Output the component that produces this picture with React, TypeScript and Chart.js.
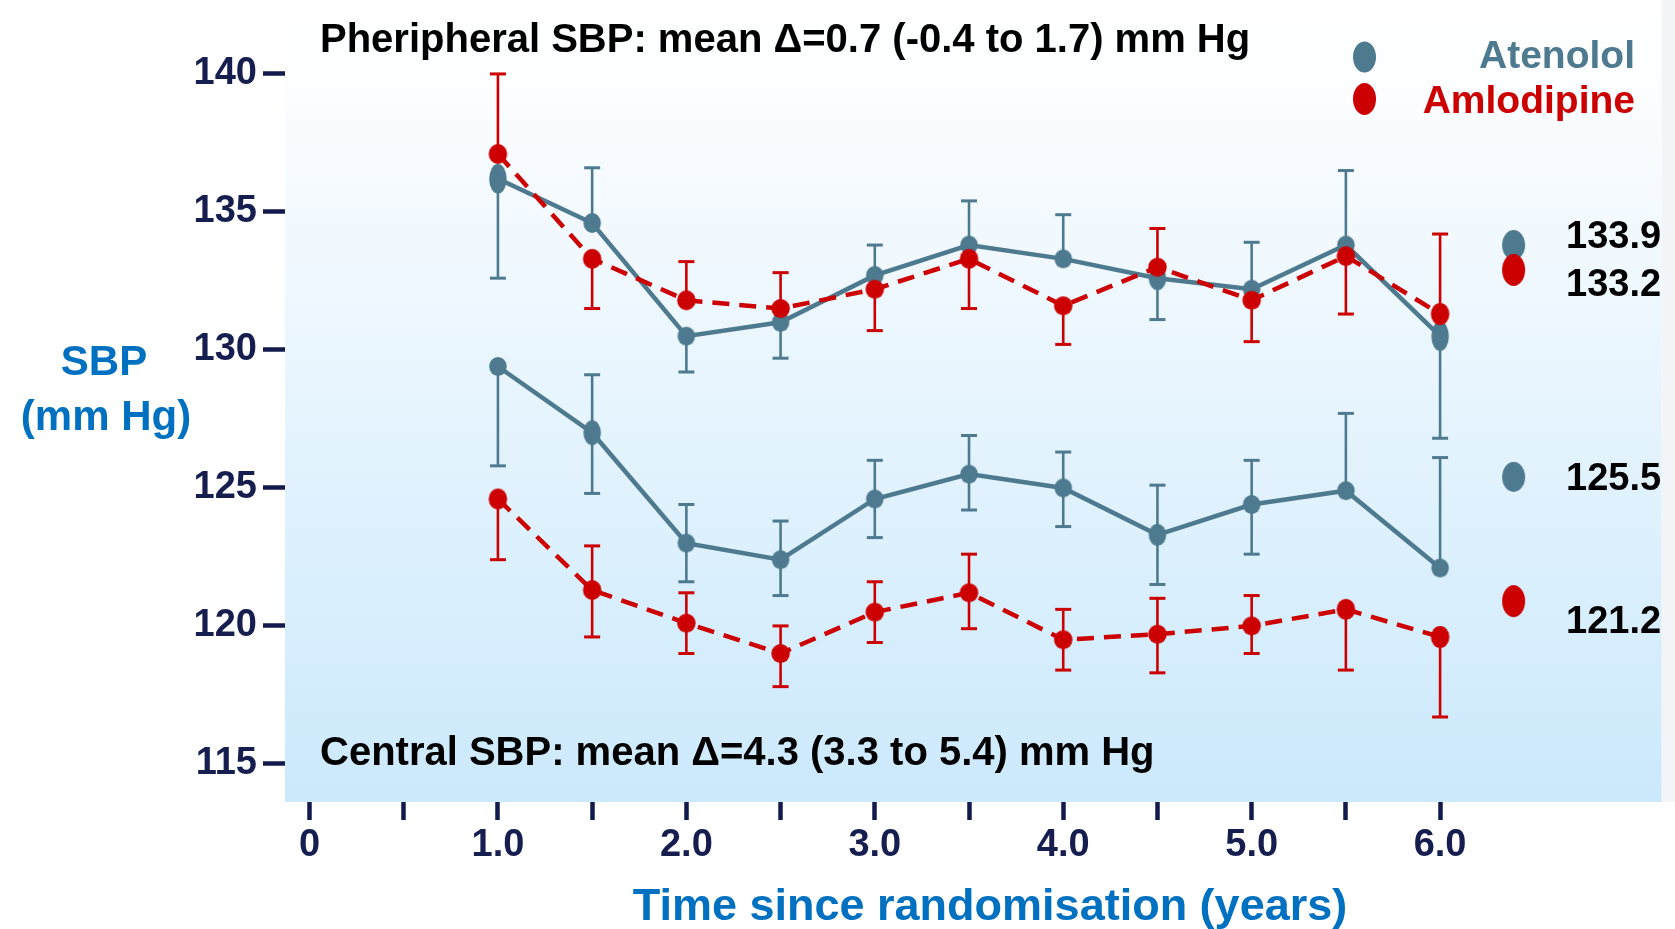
import React, { useEffect, useRef } from 'react';
import { Chart, registerables } from 'chart.js';

Chart.register(...registerables);

// ---------------- data ----------------
const years = [1.0, 1.5, 2.0, 2.5, 3.0, 3.5, 4.0, 4.5, 5.0, 5.5, 6.0];

const periphAtenolol = [136.2, 134.6, 130.5, 131.0, 132.7, 133.8, 133.3, 132.6, 132.2, 133.8, 130.5];
const periphAtenololLow = [132.6, null, 129.2, 129.7, null, null, null, 131.1, null, null, 126.8];
const periphAtenololHigh = [null, 136.6, null, null, 133.8, 135.4, 134.9, null, 133.9, 136.5, null];

const periphAmlodipine = [137.1, 133.3, 131.8, 131.5, 132.2, 133.3, 131.6, 133.0, 131.8, 133.4, 131.3];
const periphAmlodipineLow = [null, 131.5, null, null, 130.7, 131.5, 130.2, null, 130.3, 131.3, null];
const periphAmlodipineHigh = [140.0, null, 133.2, 132.8, null, null, null, 134.4, null, null, 134.2];

const centralAtenolol = [129.4, 127.0, 123.0, 122.4, 124.6, 125.5, 125.0, 123.3, 124.4, 124.9, 122.1];
const centralAtenololLow = [125.8, 124.8, 121.6, 121.1, 123.2, 124.2, 123.6, 121.5, 122.6, null, null];
const centralAtenololHigh = [null, 129.1, 124.4, 123.8, 126.0, 126.9, 126.3, 125.1, 126.0, 127.7, 126.1];

const centralAmlodipine = [124.6, 121.3, 120.1, 119.0, 120.5, 121.2, 119.5, 119.7, 120.0, 120.6, 119.6];
const centralAmlodipineLow = [122.4, 119.6, 119.0, 117.8, 119.4, 119.9, 118.4, 118.3, 119.0, 118.4, 116.7];
const centralAmlodipineHigh = [null, 122.9, 121.2, 120.0, 121.6, 122.6, 120.6, 121.0, 121.1, null, null];

// overall means shown at the right
const summaryX = 6.39;
const summaryAtenolol = [133.8, 125.4];
const summaryAtenololLabels = ['133.9', '125.5'];
const summaryAmlodipine = [132.9, 120.9];
const summaryAmlodipineLabels = ['133.2', '121.2'];

const xTicks = [0, 0.5, 1.0, 1.5, 2.0, 2.5, 3.0, 3.5, 4.0, 4.5, 5.0, 5.5, 6.0];
const yTicks = [115, 120, 125, 130, 135, 140];

const seriesNames = ['Atenolol', 'Amlodipine'];
const titlePeripheral = 'Pheripheral SBP: mean \u0394=0.7 (-0.4 to 1.7) mm Hg';
const titleCentral = 'Central SBP: mean \u0394=4.3 (3.3 to 5.4) mm Hg';
const yTitleLines = ['SBP', '(mm Hg)'];
const xTitle = 'Time since randomisation (years)';

// ---------------- style ----------------
const FONT = '"Liberation Sans", Arial, Helvetica, sans-serif';
const ATEN = '#4e7a8f';
const AMLO = '#cc0000';
const BLUE = '#0070c0';
const NAVY = '#121a4c';
const NAVY_TXT = '#161d4f';

// marker heights (visual style) per point
const hPA = [30, 20, 19, 19, 19, 19, 19, 24, 19, 19, 30];
const hPM = [20, 20, 20, 19, 19, 20, 19, 19, 19, 20, 22];
const hCA = [19, 25, 19, 19, 19, 19, 19, 22, 19, 19, 19];
const hCM = [21, 20, 19, 19, 19, 19, 19, 19, 19, 21, 22];
const summaryLabelDy = { aten: [3, 13], amlo: [26, 32] };

function ellipseImage(w: number, h: number, color: string) {
  const c = document.createElement('canvas');
  c.width = Math.ceil(w) + 2;
  c.height = Math.ceil(h) + 2;
  const g = c.getContext('2d')!;
  g.fillStyle = color;
  g.beginPath();
  g.ellipse(c.width / 2, c.height / 2, w / 2, h / 2, 0, 0, Math.PI * 2);
  g.fill();
  return c;
}

function pts(vals: number[]) {
  return years.map((x, i) => ({ x, y: vals[i] }));
}

const errorBars = [
  { vals: periphAtenolol, lo: periphAtenololLow, hi: periphAtenololHigh, color: ATEN },
  { vals: centralAtenolol, lo: centralAtenololLow, hi: centralAtenololHigh, color: ATEN },
  { vals: periphAmlodipine, lo: periphAmlodipineLow, hi: periphAmlodipineHigh, color: AMLO },
  { vals: centralAmlodipine, lo: centralAmlodipineLow, hi: centralAmlodipineHigh, color: AMLO },
];

const backgroundPlugin = {
  id: 'bg',
  beforeDraw(chart: any) {
    const { ctx, chartArea, width, height } = chart;
    const top = 5;
    ctx.save();
    ctx.fillStyle = '#ffffff';
    ctx.fillRect(0, 0, width, height);
    ctx.fillStyle = '#f3f4f8';
    ctx.fillRect(chartArea.right, 0, width - chartArea.right, chartArea.bottom);
    const g = ctx.createLinearGradient(0, top, 0, chartArea.bottom);
    g.addColorStop(0, '#ffffff');
    g.addColorStop(0.12, '#fbfdff');
    g.addColorStop(1, '#cbe9fc');
    ctx.fillStyle = g;
    ctx.fillRect(chartArea.left, top, chartArea.right - chartArea.left, chartArea.bottom - top);
    ctx.restore();
  },
};

const errorBarPlugin = {
  id: 'errbars',
  beforeDatasetsDraw(chart: any) {
    const { ctx } = chart;
    const xs = chart.scales.x;
    const ys = chart.scales.y;
    ctx.save();
    errorBars.forEach((s) => {
      ctx.strokeStyle = s.color;
      years.forEach((yr, i) => {
        const px = xs.getPixelForValue(yr);
        const py = ys.getPixelForValue(s.vals[i]);
        [s.lo[i], s.hi[i]].forEach((end) => {
          if (end === null || end === undefined) return;
          const pe = ys.getPixelForValue(end);
          ctx.lineWidth = 2.6;
          ctx.beginPath();
          ctx.moveTo(px, py);
          ctx.lineTo(px, pe);
          ctx.stroke();
          ctx.lineWidth = 3;
          ctx.beginPath();
          ctx.moveTo(px - 8, pe);
          ctx.lineTo(px + 8, pe);
          ctx.stroke();
        });
      });
    });
    ctx.restore();
  },
};

const textPlugin = {
  id: 'texts',
  afterDraw(chart: any) {
    const { ctx } = chart;
    ctx.save();
    ctx.textBaseline = 'alphabetic';
    // panel titles
    ctx.fillStyle = '#000000';
    ctx.textAlign = 'left';
    ctx.font = `bold 40px ${FONT}`;
    ctx.fillText(titlePeripheral, 320, 52);
    ctx.fillText(titleCentral, 320, 765);
    // axis titles
    ctx.fillStyle = BLUE;
    ctx.textAlign = 'center';
    ctx.font = `bold 42px ${FONT}`;
    ctx.fillText(yTitleLines[0], 104, 375);
    ctx.fillText(yTitleLines[1], 106, 430);
    ctx.font = `bold 45px ${FONT}`;
    ctx.fillText(xTitle, 990, 920);
    // legend
    ctx.textAlign = 'right';
    ctx.font = `bold 39px ${FONT}`;
    ctx.fillStyle = ATEN;
    ctx.beginPath();
    ctx.ellipse(1364.5, 57, 11.5, 15.5, 0, 0, Math.PI * 2);
    ctx.fill();
    ctx.fillText(seriesNames[0], 1635, 68);
    ctx.fillStyle = AMLO;
    ctx.beginPath();
    ctx.ellipse(1364.5, 99, 11.5, 16, 0, 0, Math.PI * 2);
    ctx.fill();
    ctx.fillText(seriesNames[1], 1635, 113);
    // summary labels
    ctx.textAlign = 'left';
    ctx.fillStyle = '#000000';
    ctx.font = `bold 38px ${FONT}`;
    const metaA = chart.getDatasetMeta(4);
    const metaM = chart.getDatasetMeta(5);
    summaryAtenololLabels.forEach((lab, i) => {
      const p = metaA.data[i];
      ctx.fillText(lab, 1566, p.y + summaryLabelDy.aten[i]);
    });
    summaryAmlodipineLabels.forEach((lab, i) => {
      const p = metaM.data[i];
      ctx.fillText(lab, 1566, p.y + summaryLabelDy.amlo[i]);
    });
    ctx.restore();
  },
};

export default function App() {
  const ref = useRef<HTMLCanvasElement>(null);

  useEffect(() => {
    const imgPA = hPA.map((h) => ellipseImage(17.5, h, ATEN));
    const imgCA = hCA.map((h) => ellipseImage(17.5, h, ATEN));
    const imgPM = hPM.map((h) => ellipseImage(18.5, h, AMLO));
    const imgCM = hCM.map((h) => ellipseImage(18.5, h, AMLO));
    const imgSumA = ellipseImage(23, 30, ATEN);
    const imgSumM = ellipseImage(23, 32, AMLO);

    const lineBase = { showLine: true, tension: 0, pointRadius: 9, fill: false, borderWidth: 4.5 };

    const chart = new Chart(ref.current!, {
      type: 'line',
      data: {
        datasets: [
          { ...lineBase, label: 'Amlodipine peripheral', data: pts(periphAmlodipine), borderColor: AMLO, borderDash: [17, 10], pointStyle: imgPM as any, order: 0 },
          { ...lineBase, label: 'Amlodipine central', data: pts(centralAmlodipine), borderColor: AMLO, borderDash: [17, 10], pointStyle: imgCM as any, order: 0 },
          { ...lineBase, label: 'Atenolol peripheral', data: pts(periphAtenolol), borderColor: ATEN, pointStyle: imgPA as any, order: 1 },
          { ...lineBase, label: 'Atenolol central', data: pts(centralAtenolol), borderColor: ATEN, pointStyle: imgCA as any, order: 1 },
          { label: 'Atenolol mean', data: summaryAtenolol.map((y) => ({ x: summaryX, y })), showLine: false, pointRadius: 12, pointStyle: imgSumA as any, order: 3 },
          { label: 'Amlodipine mean', data: summaryAmlodipine.map((y) => ({ x: summaryX, y })), showLine: false, pointRadius: 12, pointStyle: imgSumM as any, order: 2 },
        ] as any,
      },
      options: {
        responsive: false,
        devicePixelRatio: 1,
        animation: false,
        events: [],
        layout: { padding: { top: 5, right: 13, left: 0, bottom: 0 } },
        plugins: { legend: { display: false }, tooltip: { enabled: false }, title: { display: false } },
        scales: {
          x: {
            type: 'linear',
            min: -0.13,
            max: 7.175,
            afterBuildTicks: (s: any) => {
              s.ticks = xTicks.map((v) => ({ value: v }));
            },
            afterFit: (s: any) => {
              s.height = 127;
              s.paddingLeft = 0;
              s.paddingRight = 0;
            },
            border: { display: false },
            grid: { drawOnChartArea: false, drawTicks: true, tickLength: 18, tickWidth: 4.5, tickColor: NAVY },
            ticks: {
              autoSkip: false,
              maxRotation: 0,
              padding: 3,
              color: NAVY_TXT,
              font: { family: FONT, size: 38, weight: 'bold' },
              callback: (v: any) => {
                const n = Number(v);
                if (n === 0) return '0';
                if (Number.isInteger(n)) return n.toFixed(1);
                return '';
              },
            },
          },
          y: {
            type: 'linear',
            min: 113.62,
            max: 142.19,
            afterBuildTicks: (s: any) => {
              s.ticks = yTicks.map((v) => ({ value: v }));
            },
            afterFit: (s: any) => {
              s.width = 285;
              s.paddingTop = 0;
              s.paddingBottom = 0;
            },
            border: { display: false },
            grid: { drawOnChartArea: false, drawTicks: true, tickLength: 22, tickWidth: 4.5, tickColor: NAVY },
            ticks: {
              padding: 6,
              color: NAVY_TXT,
              font: { family: FONT, size: 38, weight: 'bold' },
              callback: (v: any) => String(v),
            },
          },
        },
      } as any,
      plugins: [backgroundPlugin, errorBarPlugin, textPlugin],
    });
    return () => chart.destroy();
  }, []);

  return (
    <div style={{ position: 'absolute', left: 0, top: 0, width: 1675, height: 929 }}>
      <canvas ref={ref} width={1675} height={929} style={{ display: 'block', width: 1675, height: 929 }} />
    </div>
  );
}
